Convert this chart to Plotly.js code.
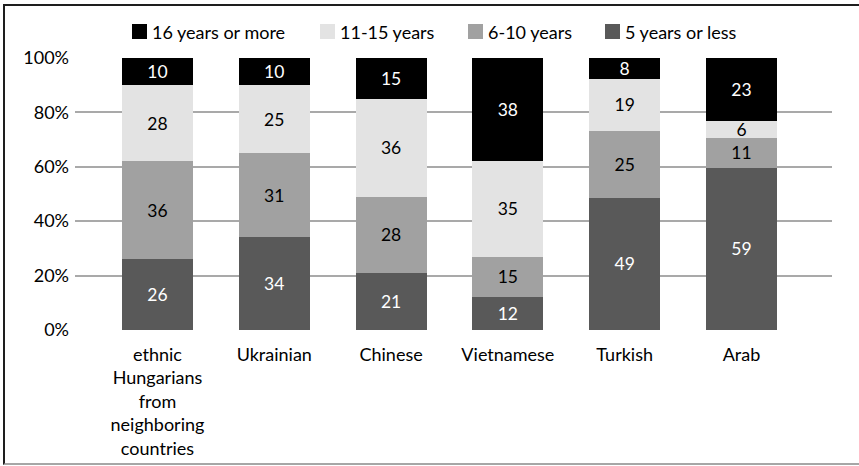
<!DOCTYPE html>
<html>
<head>
<meta charset="utf-8">
<script src="https://cdn.plot.ly/plotly-3.0.1.min.js"></script>
<style>
  html, body { margin: 0; padding: 0; background: #fff; }
  #wrap { position: relative; width: 859px; height: 466px; overflow: hidden; }
  #chart { position: absolute; left: 0; top: 0; width: 859px; height: 466px; }
  #frame { position: absolute; left: 3px; top: 4px; width: 870px; height: 461px;
           border-left: 2px solid #1e1e1e; border-top: 2px solid #1e1e1e; border-bottom: 2px solid #a6a6a6;
           box-sizing: border-box; pointer-events: none; }
</style>
</head>
<body>
<div id="wrap">
  <div id="chart"></div>
  <div id="frame"></div>
</div>
<script>
const categories = [
  "ethnic<br>Hungarians<br>from<br>neighboring<br>countries",
  "Ukrainian", "Chinese", "Vietnamese", "Turkish", "Arab"
];
const seriesNames = ["5 years or less", "6-10 years", "11-15 years", "16 years or more"];
const fiveOrLess   = [26, 34, 21, 12, 49, 59];
const sixToTen     = [36, 31, 28, 15, 25, 11];
const elevenTo15   = [28, 25, 36, 35, 19, 6];
const sixteenPlus  = [10, 10, 15, 38, 8, 23];
const yTickVals  = [0, 20, 40, 60, 80, 100];
const yTickText  = ["0%", "20%", "40%", "60%", "80%", "100%"];

const seriesValues = [fiveOrLess, sixToTen, elevenTo15, sixteenPlus];
const colors = ["#595959", "#a1a1a1", "#e3e3e3", "#000000"];
const textColors = ["#ffffff", "#000000", "#000000", "#ffffff"];
const FONT = "Lato, 'Open Sans', sans-serif";
const FS = 18;

const traces = seriesValues.map((vals, i) => ({
  type: "bar",
  name: seriesNames[i],
  x: categories,
  y: vals,
  text: vals.map(String),
  textposition: "inside",
  insidetextanchor: "middle",
  textangle: 0,
  textfont: { family: FONT, size: 17.5, color: textColors[i] },
  marker: { color: colors[i], line: { width: 0 } },
  width: 0.608,
  hoverinfo: "skip",
  showlegend: false
}));

// custom legend (layout positions in pixels, drawn in legend order: reversed series)
const W = 859, H = 466, L = 75, R = 27, T = 57, B = 136;
const pw = W - L - R, ph = H - T - B;
const legendSquareX = [132, 320, 468, 605];
const legendTop = 24, legendSize = 15, legendMid = 32;
const px2x = p => (p - L) / pw;
const py2y = p => (H - B - p) / ph;
const shapes = [], annotations = [];
[3, 2, 1, 0].forEach((si, k) => {
  const x0 = legendSquareX[k];
  shapes.push({
    type: "rect", xref: "paper", yref: "paper",
    x0: px2x(x0), x1: px2x(x0 + legendSize),
    y0: py2y(legendTop + legendSize), y1: py2y(legendTop),
    fillcolor: colors[si], line: { width: 0 }
  });
  annotations.push({
    xref: "paper", yref: "paper", x: px2x(x0 + legendSize + 3), y: py2y(legendMid),
    xanchor: "left", yanchor: "middle", showarrow: false,
    text: seriesNames[si], font: { family: FONT, size: FS, color: "#000000" }
  });
});

const layout = {
  width: W, height: H,
  margin: { l: L, r: R, t: T, b: B, autoexpand: false },
  paper_bgcolor: "#ffffff", plot_bgcolor: "#ffffff",
  barmode: "stack", barnorm: "percent",
  font: { family: FONT, size: FS, color: "#000000" },
  uniformtext: { mode: "show", minsize: 17.5 },
  showlegend: false,
  shapes: shapes,
  annotations: annotations,
  xaxis: {
    type: "category", range: [-0.706, 5.775],
    showgrid: false, zeroline: false, showline: false, ticks: "",
    ticklabelstandoff: 12,
    tickfont: { family: FONT, size: FS, color: "#000000" },
    fixedrange: true
  },
  yaxis: {
    range: [0, 100.3], tickvals: yTickVals, ticktext: yTickText,
    showgrid: true, gridcolor: "#a9a9a9", gridwidth: 2,
    zeroline: false, showline: false, ticks: "",
    ticklabelstandoff: 5,
    tickfont: { family: FONT, size: FS, color: "#000000" },
    fixedrange: true
  }
};

Plotly.newPlot("chart", traces, layout, { displayModeBar: false, staticPlot: true });
</script>
</body>
</html>
